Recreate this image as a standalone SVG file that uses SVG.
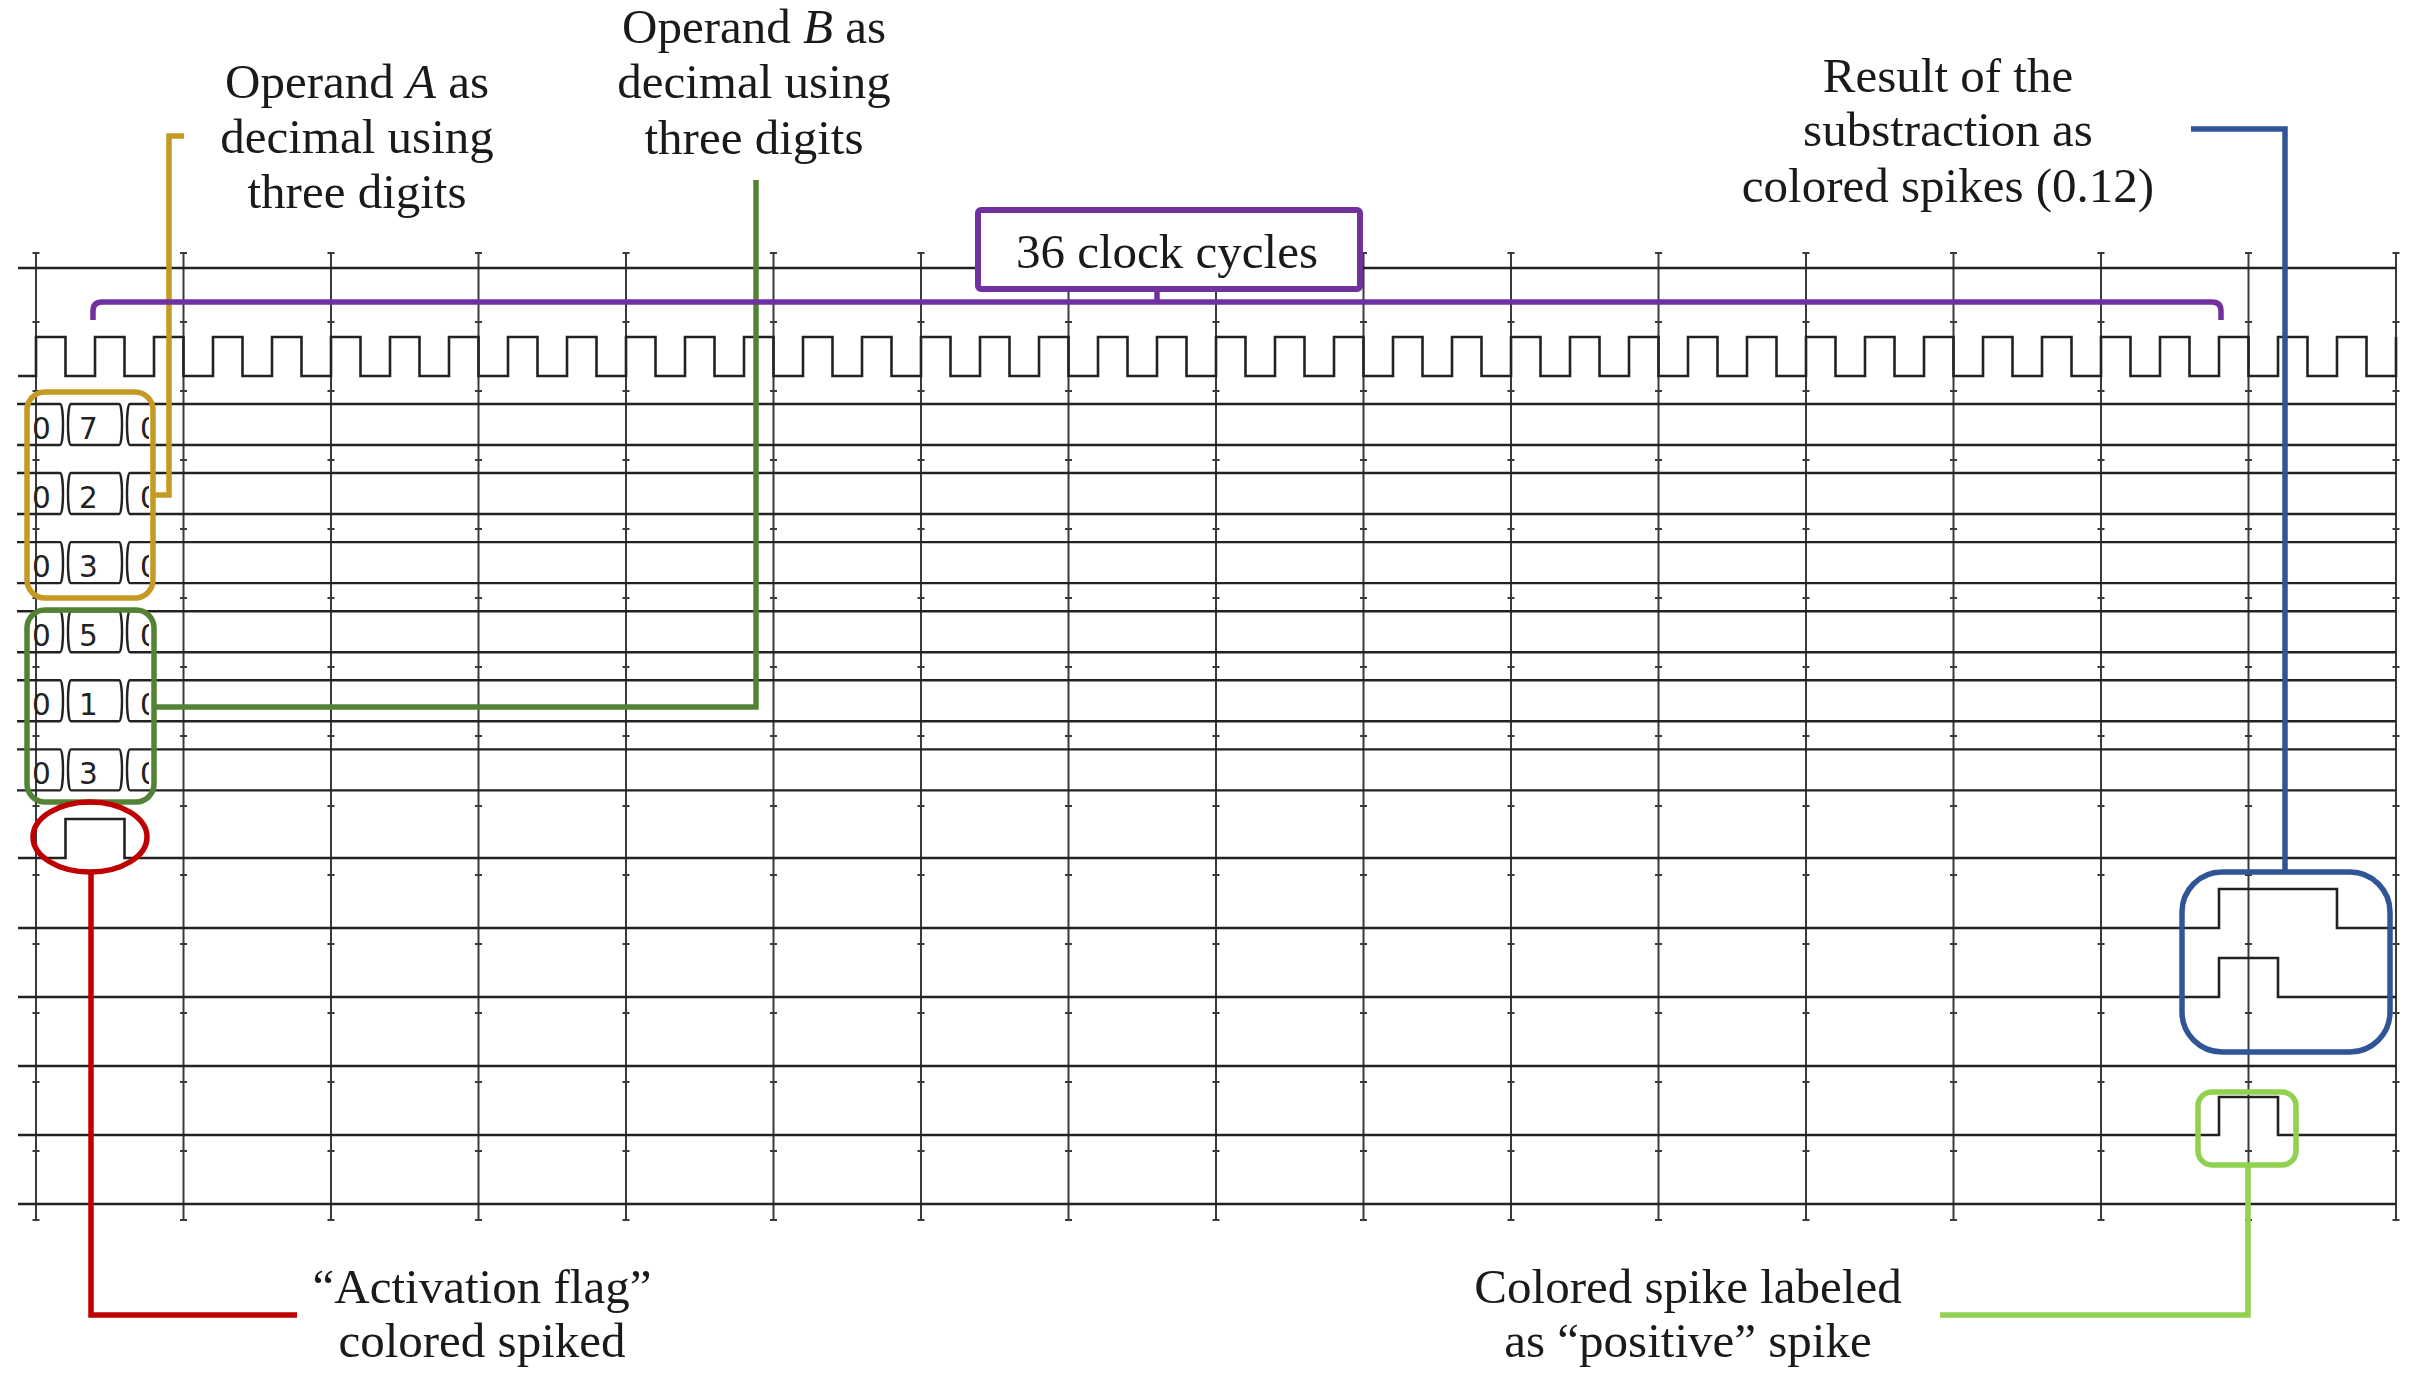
<svg xmlns="http://www.w3.org/2000/svg" width="2411" height="1383" viewBox="0 0 2411 1383">
<style>
.grid{stroke:#3a3a3a;stroke-width:2;fill:none}
.tick{stroke:#3a3a3a;stroke-width:2}
.sig{stroke:#222;stroke-width:2.6;fill:none;stroke-linejoin:miter}
.bus{stroke:#222;stroke-width:2.4;fill:none}
.dig{font-family:"DejaVu Sans",sans-serif;font-size:29.5px;fill:#222}
.lbl{font-family:"Liberation Serif",serif;font-size:49px;fill:#1a1a1a;text-anchor:middle}
.hl{fill:none;stroke-width:5.5;stroke-linejoin:miter}
</style>
<defs>
<clipPath id="cut"><rect x="0" y="0" width="149" height="1383"/></clipPath>
</defs>
<rect width="2411" height="1383" fill="#fff"/>

<g id="grid">
<g class="grid">
<path d="M36 253V1220M183.5 253V1220M331 253V1220M478.5 253V1220M626 253V1220M773.5 253V1220M921 253V1220M1068.5 253V1220M1216 253V1220M1363.5 253V1220M1511 253V1220M1658.5 253V1220M1806 253V1220M1953.5 253V1220M2101 253V1220M2248.5 253V1220M2396 253V1220"/>
</g>
<g class="tick" id="ticks">
<path d="M32.5 253h7M32.5 322h7M32.5 391h7M32.5 460h7M32.5 529h7M32.5 598h7M32.5 667h7M32.5 736h7M32.5 806h7M32.5 875h7M32.5 944h7M32.5 1013h7M32.5 1082h7M32.5 1151h7M32.5 1220h7"/>
</g>
<use href="#ticks" x="147.5"/><use href="#ticks" x="295"/><use href="#ticks" x="442.5"/><use href="#ticks" x="590"/><use href="#ticks" x="737.5"/><use href="#ticks" x="885"/><use href="#ticks" x="1032.5"/><use href="#ticks" x="1180"/><use href="#ticks" x="1327.5"/><use href="#ticks" x="1475"/><use href="#ticks" x="1622.5"/><use href="#ticks" x="1770"/><use href="#ticks" x="1917.5"/><use href="#ticks" x="2065"/><use href="#ticks" x="2212.5"/><use href="#ticks" x="2360"/>
</g>

<g id="waveforms">
<path class="sig" d="M18 268H2396"/>
<path class="sig" d="M18 376H36V337H65.5V376H95V337H124.5V376H154V337H183.5V376H213V337H242.5V376H272V337H301.5V376H331V337H360.5V376H390V337H419.5V376H449V337H478.5V376H508V337H537.5V376H567V337H596.5V376H626V337H655.5V376H685V337H714.5V376H744V337H773.5V376H803V337H832.5V376H862V337H891.5V376H921V337H950.5V376H980V337H1009.5V376H1039V337H1068.5V376H1098V337H1127.5V376H1157V337H1186.5V376H1216V337H1245.5V376H1275V337H1304.5V376H1334V337H1363.5V376H1393V337H1422.5V376H1452V337H1481.5V376H1511V337H1540.5V376H1570V337H1599.5V376H1629V337H1658.5V376H1688V337H1717.5V376H1747V337H1776.5V376H1806V337H1835.5V376H1865V337H1894.5V376H1924V337H1953.5V376H1983V337H2012.5V376H2042V337H2071.5V376H2101V337H2130.5V376H2160V337H2189.5V376H2219V337H2248.5V376H2278V337H2307.5V376H2337V337H2366.5V376H2396V337"/>

<g id="bus-a1">
<path class="bus" d="M17 404H60C64 404 64 445 60 445H17"/>
<path class="bus" d="M71 404C67 404 67 445 71 445H119C123 445 123 404 119 404Z"/>
<path class="bus" d="M2396 404H130C126 404 126 445 130 445H2396"/>
<text class="dig" x="32" y="439">0</text><text class="dig" x="79" y="439">7</text><text class="dig" x="140" y="439" clip-path="url(#cut)">0</text>
</g>
<g id="bus-a2" transform="translate(0,69.07)">
<path class="bus" d="M17 404H60C64 404 64 445 60 445H17"/>
<path class="bus" d="M71 404C67 404 67 445 71 445H119C123 445 123 404 119 404Z"/>
<path class="bus" d="M2396 404H130C126 404 126 445 130 445H2396"/>
<text class="dig" x="32" y="439">0</text><text class="dig" x="79" y="439">2</text><text class="dig" x="140" y="439" clip-path="url(#cut)">0</text>
</g>
<g id="bus-a3" transform="translate(0,138.14)">
<path class="bus" d="M17 404H60C64 404 64 445 60 445H17"/>
<path class="bus" d="M71 404C67 404 67 445 71 445H119C123 445 123 404 119 404Z"/>
<path class="bus" d="M2396 404H130C126 404 126 445 130 445H2396"/>
<text class="dig" x="32" y="439">0</text><text class="dig" x="79" y="439">3</text><text class="dig" x="140" y="439" clip-path="url(#cut)">0</text>
</g>
<g id="bus-b1" transform="translate(0,207.21)">
<path class="bus" d="M17 404H60C64 404 64 445 60 445H17"/>
<path class="bus" d="M71 404C67 404 67 445 71 445H119C123 445 123 404 119 404Z"/>
<path class="bus" d="M2396 404H130C126 404 126 445 130 445H2396"/>
<text class="dig" x="32" y="439">0</text><text class="dig" x="79" y="439">5</text><text class="dig" x="140" y="439" clip-path="url(#cut)">0</text>
</g>
<g id="bus-b2" transform="translate(0,276.28)">
<path class="bus" d="M17 404H60C64 404 64 445 60 445H17"/>
<path class="bus" d="M71 404C67 404 67 445 71 445H119C123 445 123 404 119 404Z"/>
<path class="bus" d="M2396 404H130C126 404 126 445 130 445H2396"/>
<text class="dig" x="32" y="439">0</text><text class="dig" x="79" y="439">1</text><text class="dig" x="140" y="439" clip-path="url(#cut)">0</text>
</g>
<g id="bus-b3" transform="translate(0,345.35)">
<path class="bus" d="M17 404H60C64 404 64 445 60 445H17"/>
<path class="bus" d="M71 404C67 404 67 445 71 445H119C123 445 123 404 119 404Z"/>
<path class="bus" d="M2396 404H130C126 404 126 445 130 445H2396"/>
<text class="dig" x="32" y="439">0</text><text class="dig" x="79" y="439">3</text><text class="dig" x="140" y="439" clip-path="url(#cut)">0</text>
</g>

<path class="sig" d="M18 858H65.5V819H124.5V858H2396"/>
<path class="sig" d="M18 928H2219V889H2337V928H2396"/>
<path class="sig" d="M18 997H2219V958H2278V997H2396"/>
<path class="sig" d="M18 1066H2396"/>
<path class="sig" d="M18 1135H2219V1097H2278V1135H2396"/>
<path class="sig" d="M18 1204H2396"/>
</g>

<g id="connectors">
<path class="hl" stroke="#C49A24" d="M153 495H169V136H184"/>
<path class="hl" stroke="#548235" d="M154 707H756V180"/>
<path class="hl" stroke="#C00000" d="M91 872V1315H297"/>
<path class="hl" stroke="#7030A0" d="M93 320V311Q93 302 102 302H2212Q2221 302 2221 311V320M1157 289V302"/>
<path class="hl" stroke="#2F5597" stroke-width="6" d="M2191 129H2285V872"/>
<path class="hl" stroke="#92D050" d="M2248 1165V1315H1940"/>
</g>

<g id="node-operand-a">
<rect class="hl" stroke="#C49A24" x="27" y="392" width="126" height="206" rx="18"/>
<text class="lbl" x="357" y="98">Operand <tspan font-style="italic">A</tspan> as</text>
<text class="lbl" x="357" y="153">decimal using</text>
<text class="lbl" x="357" y="208">three digits</text>
</g>

<g id="node-operand-b">
<rect class="hl" stroke="#548235" x="27" y="610" width="127" height="192" rx="18"/>
<text class="lbl" x="754" y="43">Operand <tspan font-style="italic">B</tspan> as</text>
<text class="lbl" x="754" y="98">decimal using</text>
<text class="lbl" x="754" y="154">three digits</text>
</g>

<g id="node-cycles">
<rect x="978" y="210" width="382" height="79" rx="3" fill="#fff" stroke="#7030A0" stroke-width="6"/>
<text class="lbl" x="1167" y="268">36 clock cycles</text>
</g>

<g id="node-activation">
<ellipse class="hl" stroke="#C00000" cx="90" cy="837" rx="57" ry="35"/>
<text class="lbl" x="482" y="1303">“Activation flag”</text>
<text class="lbl" x="482" y="1357">colored spiked</text>
</g>

<g id="node-result">
<rect class="hl" stroke="#2F5597" stroke-width="6" x="2182" y="872" width="208" height="180" rx="40"/>
<text class="lbl" x="1948" y="92">Result of the</text>
<text class="lbl" x="1948" y="146">substraction as</text>
<text class="lbl" x="1948" y="202">colored spikes (0.12)</text>
</g>

<g id="node-positive">
<rect class="hl" stroke="#92D050" x="2198" y="1092" width="98" height="73" rx="14"/>
<text class="lbl" x="1688" y="1303">Colored spike labeled</text>
<text class="lbl" x="1688" y="1357">as “positive” spike</text>
</g>
</svg>
